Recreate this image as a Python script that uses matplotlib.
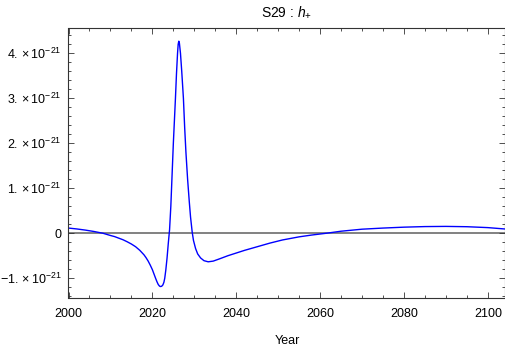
import numpy as np
import matplotlib
matplotlib.use('Agg')
import matplotlib.pyplot as plt
from matplotlib.ticker import MultipleLocator, FixedLocator

plt.rcParams['font.family'] = ['Liberation Sans', 'DejaVu Sans']
plt.rcParams['mathtext.fontset'] = 'custom'
plt.rcParams['mathtext.rm'] = 'Liberation Sans'
plt.rcParams['mathtext.it'] = 'Liberation Sans:italic'

# Data (h_plus in units of 1e-21)
years = [2000.0, 2002.0, 2004.0, 2006.0, 2008.2, 2010.0, 2011.0, 2012.0, 2013.0,
         2014.0, 2015.0, 2016.0, 2017.0, 2018.0, 2018.5, 2019.0, 2019.5, 2020.0,
         2020.4, 2020.8, 2021.1, 2021.4, 2021.7, 2021.9, 2022.2, 2022.5,
         2022.75, 2022.95, 2023.2, 2023.5, 2023.8, 2024.1, 2024.4, 2024.7, 2025.0,
         2025.3, 2025.5, 2025.75, 2026.0, 2026.15, 2026.3, 2026.45, 2026.7, 2027.0,
         2027.4, 2027.7, 2028.0, 2028.4, 2028.8, 2029.1, 2029.5, 2029.8, 2030.3,
         2030.8, 2031.5, 2032.3, 2033.3, 2034.5, 2036.0, 2038.0, 2040.0, 2042.0,
         2045.0, 2048.0, 2051.0, 2055.0, 2058.0, 2061.5, 2065.0, 2070.0, 2075.0,
         2080.0, 2085.0, 2090.0, 2095.0, 2100.0, 2104.0]
h_plus = [0.115, 0.095, 0.07, 0.04, 0.0, -0.05, -0.075, -0.11, -0.145,
          -0.19, -0.24, -0.30, -0.38, -0.48, -0.545, -0.62, -0.71, -0.81,
          -0.91, -1.01, -1.08, -1.14, -1.175, -1.185, -1.18, -1.15,
          -1.09, -1.0, -0.82, -0.55, -0.22, 0.08, 0.6, 1.3, 2.0,
          2.6, 3.0, 3.55, 4.0, 4.2, 4.27, 4.22, 4.0, 3.6,
          3.0, 2.35, 1.8, 1.2, 0.7, 0.36, 0.02, -0.16, -0.34,
          -0.46, -0.55, -0.61, -0.635, -0.62, -0.57, -0.50, -0.44, -0.38,
          -0.30, -0.22, -0.15, -0.08, -0.04, 0.0, 0.045, 0.09, 0.115,
          0.135, 0.148, 0.152, 0.145, 0.125, 0.095]

ytick_vals = [-1, 0, 1, 2, 3, 4]
ytick_labels = [r'$\mathregular{-1.\times10^{-21}}$', '0',
                r'$\mathregular{1.\times10^{-21}}$', r'$\mathregular{2.\times10^{-21}}$',
                r'$\mathregular{3.\times10^{-21}}$', r'$\mathregular{4.\times10^{-21}}$']

x = np.array(years)
y = np.array(h_plus) * 1e-21

fig = plt.figure(figsize=(5.06, 3.47), dpi=100)
ax = fig.add_axes([68.5 / 506, 1 - 298 / 347, (505.5 - 68.5) / 506, (298 - 27.7) / 347])

ax.axhline(0, color='#777777', lw=1.3, zorder=1)
ax.plot(x, y, color='#0000ff', lw=1.0, zorder=2)

ax.set_xlim(2000, 2104.2)
ax.set_ylim(-1.44e-21, 4.57e-21)

ax.xaxis.set_major_locator(MultipleLocator(20))
ax.xaxis.set_minor_locator(MultipleLocator(5))
ax.yaxis.set_major_locator(FixedLocator([v * 1e-21 for v in ytick_vals]))
ax.yaxis.set_minor_locator(FixedLocator([v * 0.2e-21 for v in range(-7, 23)]))
ax.set_yticklabels(ytick_labels)

ax.tick_params(which='both', direction='in', top=True, right=True,
               labelsize=9, color='#333333', width=0.6)
ax.tick_params(which='major', length=4.3)
ax.tick_params(axis='x', which='major', pad=7)
ax.tick_params(axis='y', which='major', pad=5)
ax.tick_params(which='minor', length=2.4)
for s in ax.spines.values():
    s.set_color('#333333')
    s.set_linewidth(0.8)

ax.set_xlabel('Year', fontsize=9, labelpad=11)
ax.set_title(r'S29 : $h_{+}$', fontsize=10, pad=8)

fig.savefig('out.png', dpi=100)
